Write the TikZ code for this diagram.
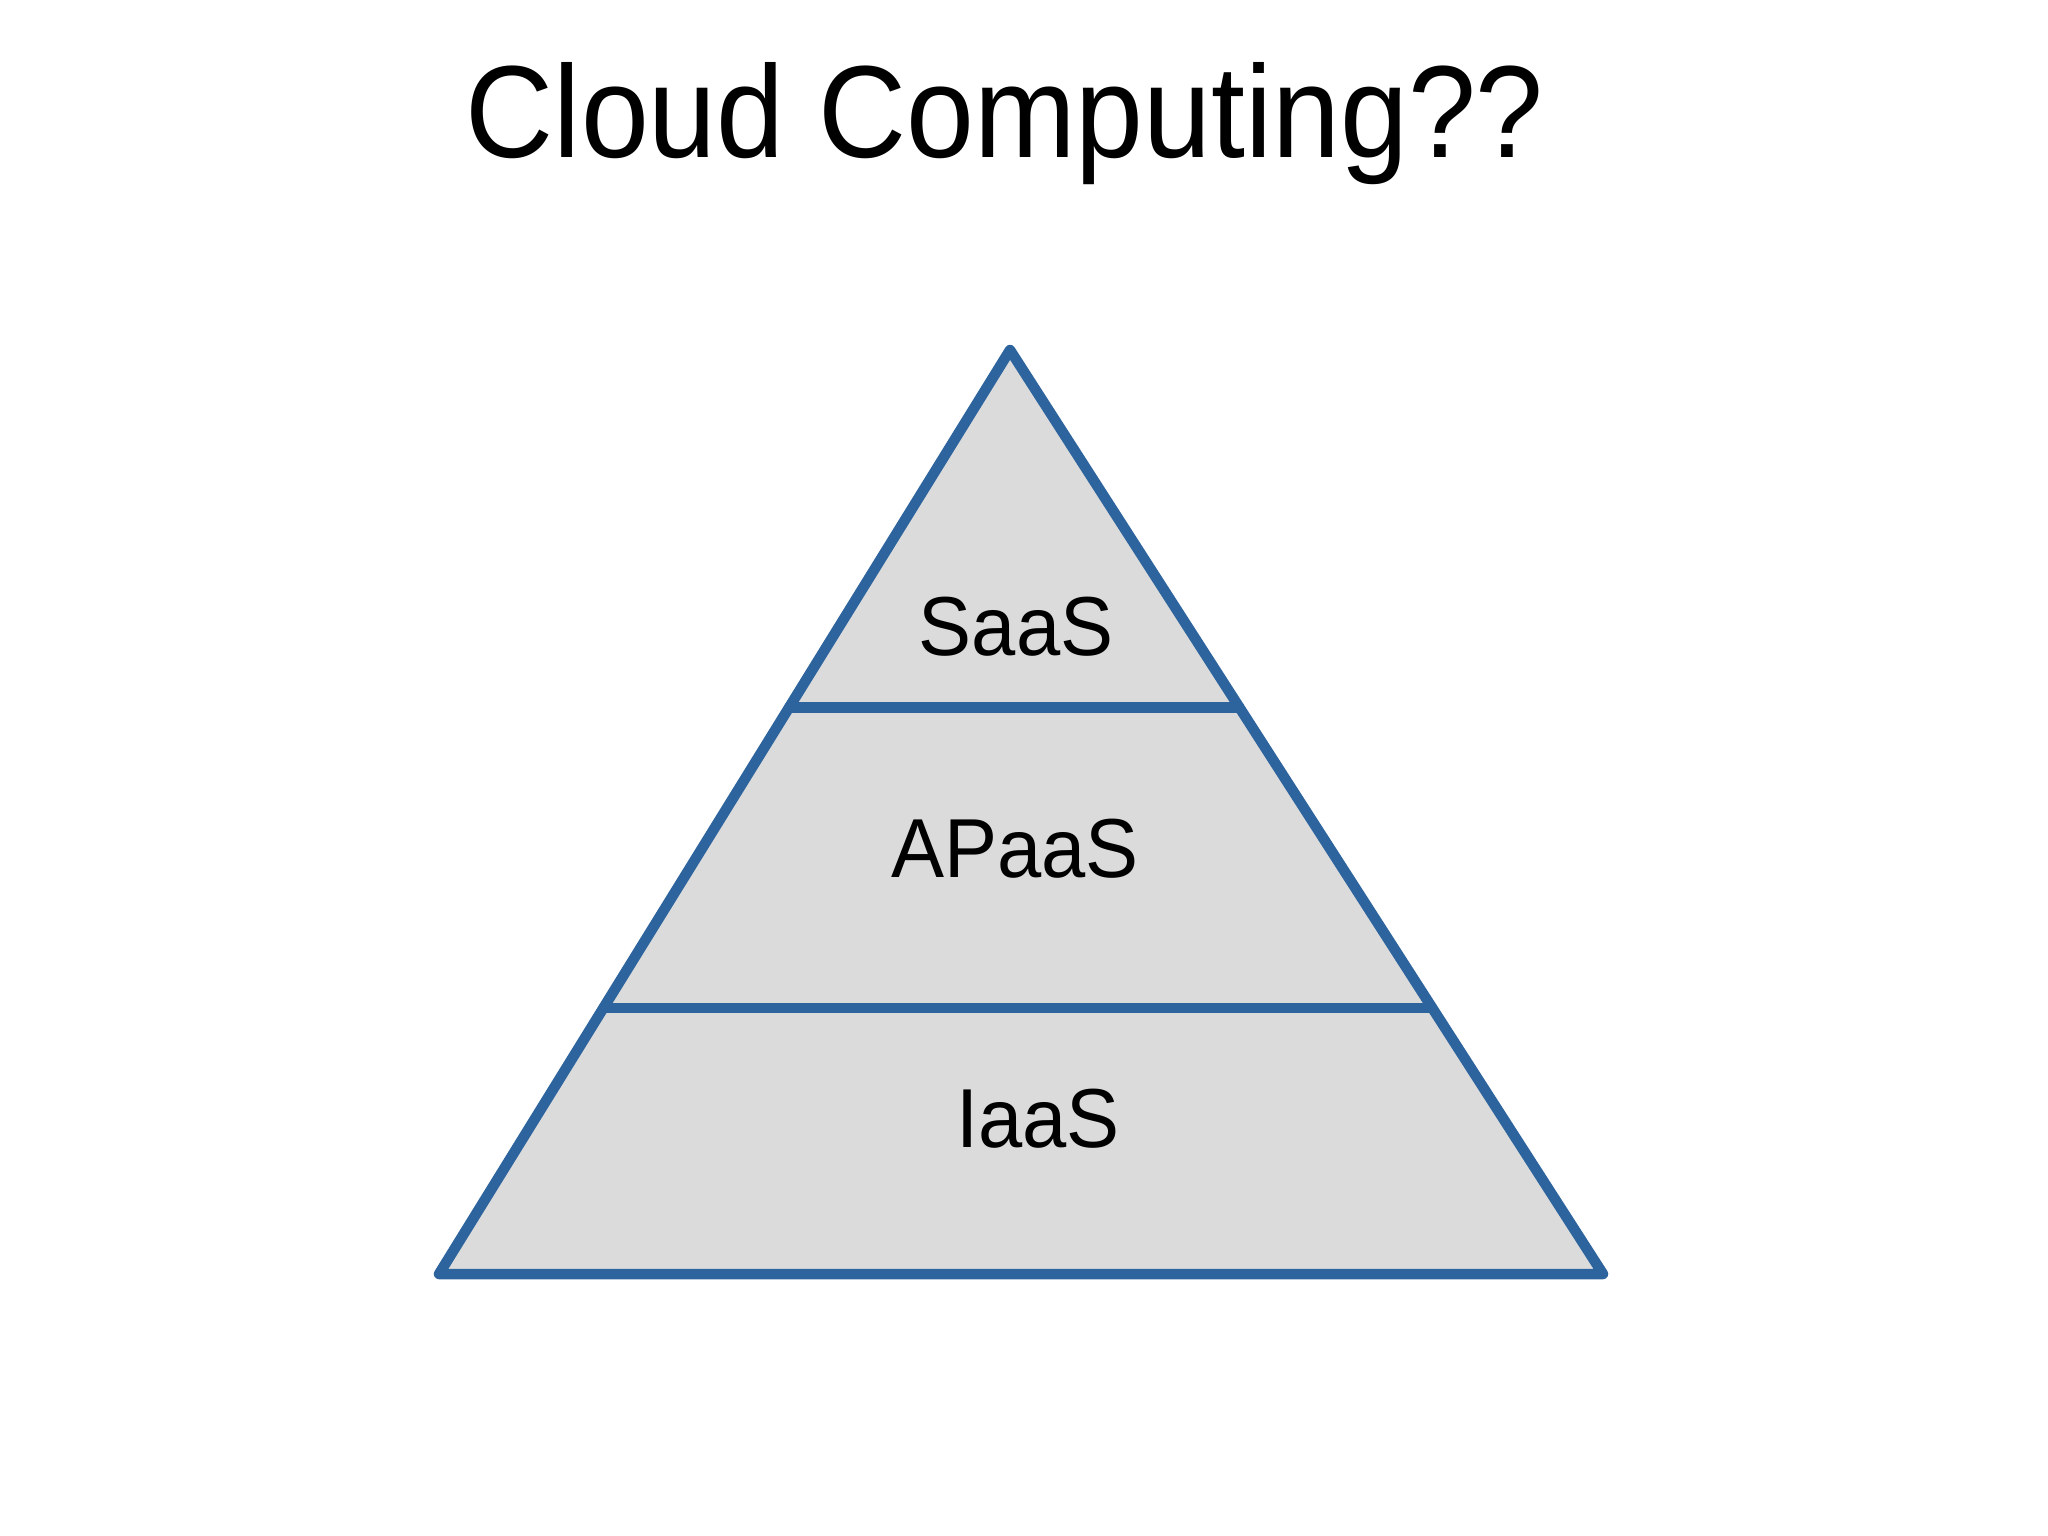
\documentclass[tikz,border=0pt]{standalone}
\usepackage{fontspec}
\setmainfont{Liberation Sans}
\usetikzlibrary{calc}
\definecolor{edgeblue}{RGB}{46,100,158}
\definecolor{layergrey}{RGB}{219,219,219}
\tikzset{
  pyrline/.style={draw=edgeblue, line width=0.105cm, line join=round, line cap=round},
  layerlabel/.style={font=\fontsize{23.8}{26}\selectfont, xscale=0.95, anchor=center, text=black},
  titletext/.style={font=\fontsize{37.3}{40}\selectfont, xscale=0.93, anchor=base, text=black}
}
\begin{document}
\begin{tikzpicture}[x=0.01cm,y=-0.01cm]
\useasboundingbox[fill=white] (0,0) rectangle (2048,1536);
\node[titletext] (title) at (1005,157) {Cloud Computing??};
\coordinate (apex) at (1010,350);
\coordinate (bl) at (439,1274);
\coordinate (br) at (1603,1274);
\coordinate (l1) at ($(apex)!0.387!(bl)$);
\coordinate (r1) at ($(apex)!0.387!(br)$);
\coordinate (l2) at ($(apex)!0.712!(bl)$);
\coordinate (r2) at ($(apex)!0.712!(br)$);
\fill[layergrey] (apex) -- (bl) -- (br) -- cycle;
\draw[pyrline] (l1) -- (r1);
\draw[pyrline] (l2) -- (r2);
\draw[pyrline] (apex) -- (bl) -- (br) -- cycle;
\node[layerlabel] (saas) at (1016,627) {SaaS};
\node[layerlabel] (apaas) at (1015,849) {APaaS};
\node[layerlabel] (iaas) at (1038,1119) {IaaS};
\end{tikzpicture}
\end{document}
